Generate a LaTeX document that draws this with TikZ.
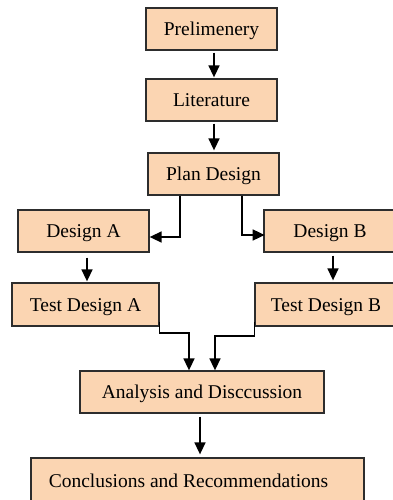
\documentclass[tikz,border=0pt]{standalone}
\usepackage{fontspec}
\setmainfont{Liberation Serif}
\usetikzlibrary{arrows.meta,calc}
\definecolor{peach}{RGB}{251,213,178}
\definecolor{edge}{RGB}{45,45,45}
\begin{document}
\begin{tikzpicture}[x=1pt,y=-1pt,
  box/.style={draw=edge,line width=1.3pt,fill=peach,minimum height=42pt,inner sep=0pt,
    text height=14.5pt,text depth=1.5pt,font=\fontsize{19.5}{22}\selectfont},
  arr/.style={line width=1.6pt,draw=black,-{Triangle[length=12pt,width=11pt]}}]
\useasboundingbox (0,0) rectangle (393,500);
\clip (0,0) rectangle (393,500);
\node[box,minimum width=131pt] (pre) at (211.5,29) {Prelimenery};
\node[box,minimum width=131pt] (lit) at (211.5,100) {Literature};
\node[box,minimum width=131pt] (plan) at (213.5,174) {Plan Design};
\node[box,minimum width=131pt] (dA) at (83.5,231) {Design A};
\node[box,minimum width=132pt] (dB) at (330,231) {Design B};
\node[box,minimum width=147pt,minimum height=43pt] (tA) at (85.5,304.5) {Test Design A};
\node[box,minimum width=142pt,minimum height=43pt] (tB) at (326,304.5) {Test Design B};
\node[box,minimum width=244pt] (an) at (202,392) {Analysis and Disccussion};
\node[box,minimum width=333pt,minimum height=50pt,text height=9pt,text depth=1pt] (con) at (197.5,483)
  {Conclusions and Recommendations\kern18pt};
\draw[arr] ($(pre.south)+(2.5,2)$) -- ($(lit.north)+(2.5,-1)$);
\draw[arr] ($(lit.south)+(2.5,2)$) -- ($(plan.north)+(0.5,-2)$);
\draw[arr] ($(plan.south)+(-33.5,0)$) |- ($(dA.east)+(0,6)$);
\draw[arr] ($(plan.south)+(28.5,0)$) |- ($(dB.east)+(-132,4)$);
\draw[arr] ($(dA.south)+(3.5,5)$) -- ($(tA.north)+(1.5,-1)$);
\draw[arr] ($(dB.south)+(3,3)$) -- ($(tB.north)+(7,-2)$);
\draw[arr] ($(tA.east)+(0,17)$) |- ($(an.north)+(-13,-37.5)$) -- ($(an.north)+(-13,0)$);
\draw[arr] ($(tB.west)+(0,17)$) |- ($(an.north)+(13,-34.5)$) -- ($(an.north)+(13,0)$);
\draw[arr] ($(an.south)+(-2,3)$) -- ($(con.north)+(2.5,-3)$);
\end{tikzpicture}
\end{document}
